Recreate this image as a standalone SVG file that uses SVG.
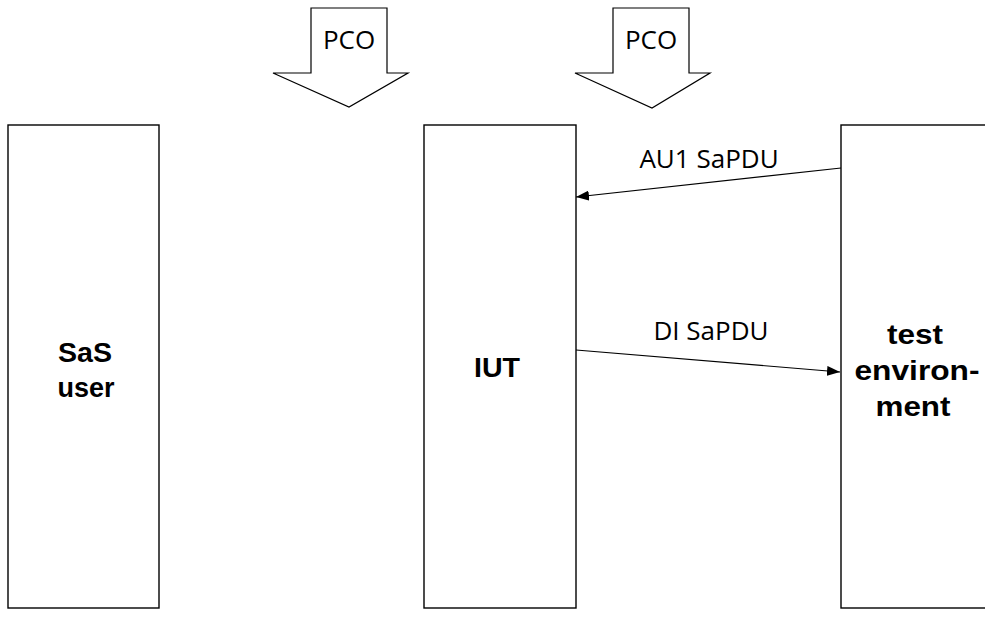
<svg xmlns="http://www.w3.org/2000/svg" width="985" height="621" viewBox="0 0 985 621">
<defs>
<style>
.box{fill:#fff;stroke:#000;stroke-width:1.4}
.pco{fill:#fff;stroke:#000;stroke-width:1.2}
.lbl{font-family:"Open Sans","Noto Sans",sans-serif;font-size:26px;fill:#000;text-anchor:middle}
.bold{font-family:"Liberation Sans",Arial,sans-serif;font-size:28px;font-weight:bold;fill:#000;text-anchor:middle}
.conn{stroke:#000;stroke-width:1.2;fill:none}
</style>
<marker id="ah" viewBox="0 0 13 10" refX="13" refY="5" markerWidth="13" markerHeight="10" markerUnits="userSpaceOnUse" orient="auto">
<path d="M0,0 L13,5 L0,10 Z" fill="#000"/>
</marker>
</defs>
<rect width="985" height="621" fill="#fff"/>
<g id="pco1">
<path class="pco" d="M311,8 L387,8 L387,73 L408,73 L349,107 L273,73 L311,73 Z"/>
<text class="lbl" x="349" y="49">PCO</text>
</g>
<g id="pco2">
<path class="pco" d="M613,8 L689,8 L689,73 L710,73 L652,108 L575,73 L613,73 Z"/>
<text class="lbl" x="651" y="49">PCO</text>
</g>
<g id="sas-user">
<rect class="box" x="8" y="125" width="151" height="483"/>
<text class="bold" x="85" y="362" textLength="54" lengthAdjust="spacingAndGlyphs">SaS</text>
<text class="bold" x="86" y="397" textLength="57" lengthAdjust="spacingAndGlyphs">user</text>
</g>
<g id="iut">
<rect class="box" x="424" y="125" width="152" height="483"/>
<text class="bold" x="497" y="377" textLength="46" lengthAdjust="spacingAndGlyphs">IUT</text>
</g>
<g id="test-env">
<rect class="box" x="841" y="125" width="160" height="483"/>
<text class="bold" x="915" y="344" textLength="56" lengthAdjust="spacingAndGlyphs">test</text>
<text class="bold" x="917" y="380" textLength="125" lengthAdjust="spacingAndGlyphs">environ-</text>
<text class="bold" x="913" y="416" textLength="75" lengthAdjust="spacingAndGlyphs">ment</text>
</g>
<g id="connectors">
<line class="conn" x1="841" y1="168" x2="576" y2="197" marker-end="url(#ah)"/>
<text class="lbl" x="709" y="168">AU1 SaPDU</text>
<line class="conn" x1="576" y1="350" x2="840" y2="372" marker-end="url(#ah)"/>
<text class="lbl" x="711" y="340">DI SaPDU</text>
</g>
</svg>
